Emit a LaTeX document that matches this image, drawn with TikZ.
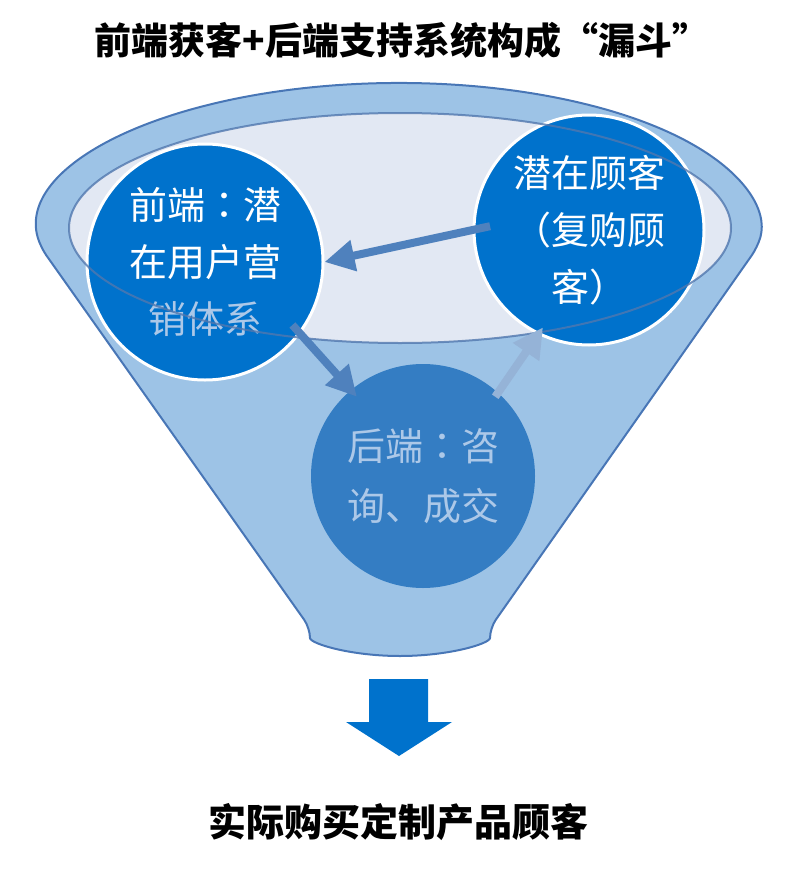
\documentclass[tikz,border=0pt]{standalone}
\usepackage{fontspec}
\setmainfont{Noto Sans CJK SC}[BoldFont={Noto Sans CJK SC Black}]
\newfontfamily\tcfont{Noto Sans CJK TC}
\newcommand{\mittelkolon}{{\tcfont ：}}
\usepackage{tikz}
\definecolor{trichterblau}{RGB}{157,195,230}
\definecolor{randblau}{RGB}{72,118,182}
\definecolor{innenblau}{RGB}{226,232,243}
\definecolor{kreisblau}{RGB}{0,114,204}
\definecolor{mittelblau}{RGB}{52,125,195}
\definecolor{pfeilblau}{RGB}{79,129,189}
\definecolor{hellpfeil}{RGB}{149,179,215}
\definecolor{hellschrift}{RGB}{172,200,232}
\usetikzlibrary{arrows.meta}

\begin{document}
\begin{tikzpicture}[x=1pt, y=-1pt,
			kreis/.style={circle, inner sep=0pt, minimum size=#1, align=center, text=white, font=\fontsize{38}{57}\selectfont},
			pfeil/.style={line width=8pt, -{Triangle[length=30pt,width=30pt]}, color=pfeilblau},
			titel/.style={font=\fontsize{37}{44}\selectfont\bfseries}]
			\useasboundingbox (0,0) rectangle (800,870);
			%Ueberschrift
			\node[titel] (kopf) at (402,40) {前端获客+后端支持系统构成“漏斗”};
			%Trichter zeichnen
			\filldraw[fill=trichterblau, draw=randblau, line width=2pt, rounded corners=10pt]
				(40.5,247.1) arc[start angle=173.3, end angle=366.7, x radius=361, y radius=147]
				-- (490,628) arc[start angle=0, end angle=180, x radius=90, y radius=28] -- cycle;
			\fill[innenblau] (400,228) ellipse[x radius=331, y radius=115];
			%Kreise
			\node[kreis=236pt, fill=kreisblau, draw=white, line width=3pt] (qianduan) at (205,262) {前端\mittelkolon 潜\\在用户营\\\textcolor{hellschrift}{销体系}};
			\node[kreis=230pt, fill=kreisblau, draw=white, line width=3pt] (qianke) at (589,230) {潜在顾客\\（复购顾\\客）};
			\node[kreis=224pt, fill=mittelblau, text=hellschrift, font=\fontsize{38}{60}\selectfont] (houduan) at (423,476) {后端\mittelkolon 咨\\询、成交};
			%Innenrand ueber den Kreisen
			\draw[randblau!85!gray, line width=2pt, opacity=0.8] (400,228) ellipse[x radius=331, y radius=115];
			%Pfeile
			\draw[pfeil, shorten <=-18pt] (qianke.west) -- (qianduan.east);
			\draw[pfeil, shorten <=-12pt, shorten >=-9pt] (qianduan.-37) -- (houduan.130);
			\draw[pfeil, color=hellpfeil, shorten <=-5pt, shorten >=-9pt] (houduan.48) -- (qianke.244);
			%Ergebnis
			\fill[kreisblau] (369,679) -- (428,679) -- (428,722) -- (452,722) -- (399,756) -- (346,722) -- (369,722) -- cycle;
			\node[titel, font=\fontsize{38}{44}\selectfont\bfseries] (kunde) at (398,822) {实际购买定制产品顾客};
		\end{tikzpicture}
\end{document}
